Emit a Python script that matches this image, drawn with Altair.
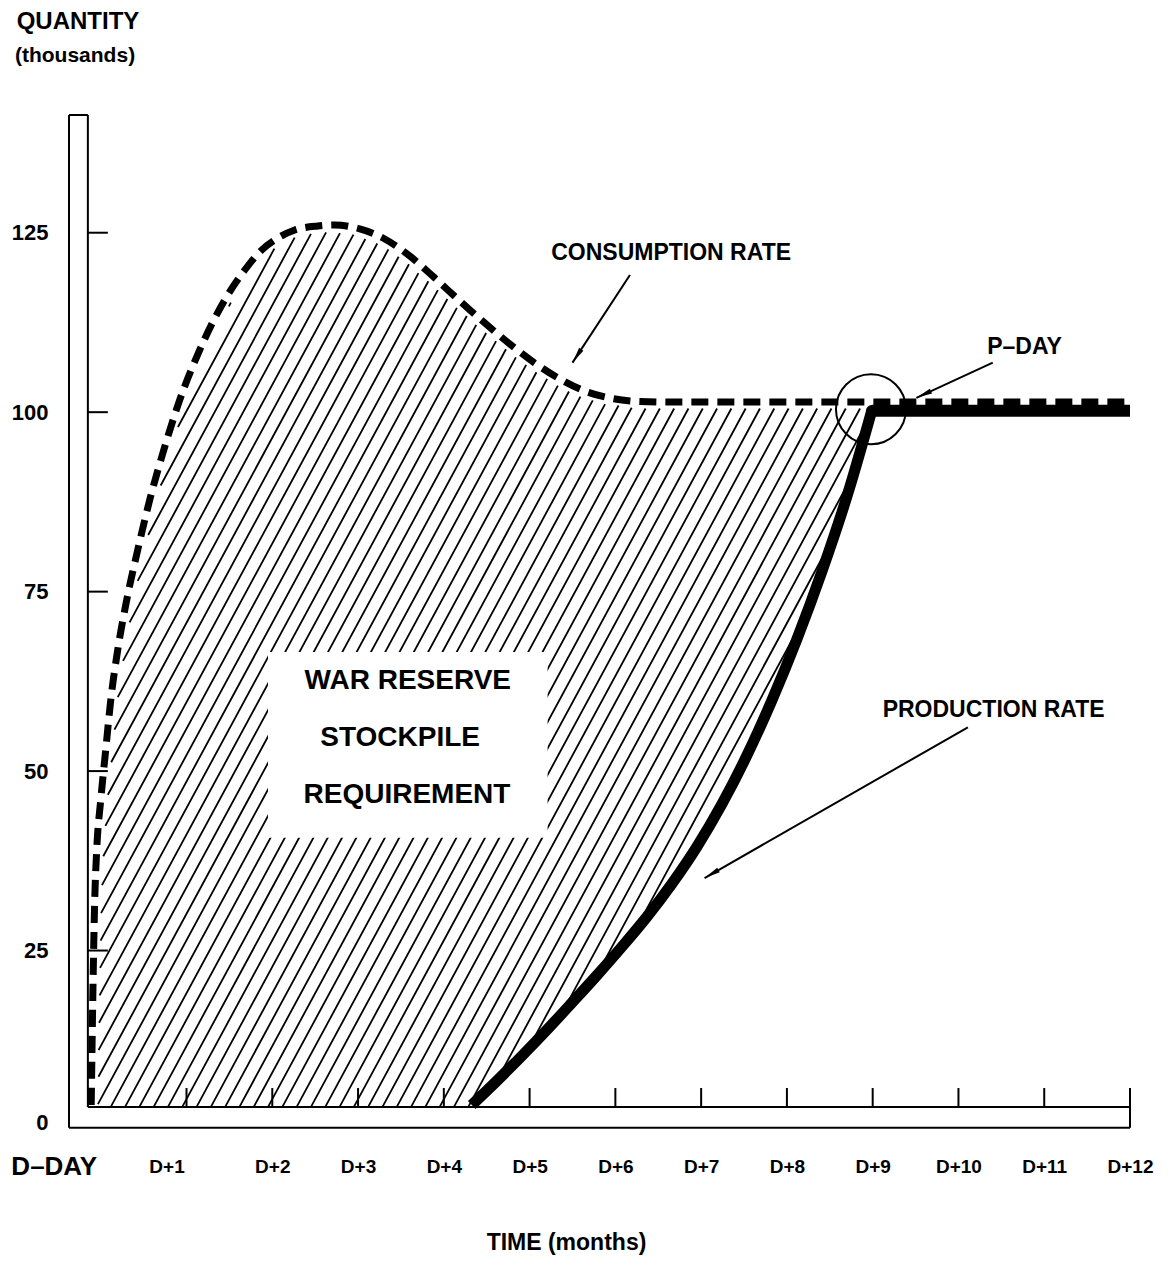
import json
import numpy as np
import pandas as pd
import altair as alt

FONT = "Liberation Sans"

# ---------------- data (months after D-Day, thousands) ----------------
cons_x = [-0.111, -0.093, -0.070, -0.047, 0.000, 0.058, 0.117, 0.198, 0.303, 0.431,
          0.571, 0.735, 0.921, 1.154, 1.446, 1.679, 1.877, 2.029, 2.262, 2.530, 2.728,
          3.020, 3.311, 3.603, 3.894, 4.186, 4.477, 4.769, 5.060, 5.352, 5.643, 5.935,
          6.284, 6.634, 12.0]
cons_y = [3.48, 18.11, 32.04, 39.01, 45.97, 52.94, 59.91, 66.87, 73.84, 80.80,
          87.77, 94.73, 101.70, 108.67, 115.63, 119.81, 122.60, 123.99, 125.38, 125.94, 126.08,
          125.52, 124.13, 121.76, 118.70, 115.49, 112.43, 109.50, 106.85, 104.63, 102.95, 101.98,
          101.49, 101.42, 101.42]

prod_x = [4.326, 4.617, 4.909, 5.200, 5.491, 5.783, 6.074, 6.366, 6.657, 6.949, 7.240,
          7.532, 7.823, 8.115, 8.406, 8.698, 8.989, 12.0]
prod_y = [3.48, 6.83, 10.31, 13.93, 17.69, 21.52, 25.49, 29.67, 34.27, 39.43, 45.35,
          52.14, 59.80, 68.33, 77.74, 88.19, 100.2, 100.2]

month_values = list(range(13))
month_labels = ["D\u2013DAY"] + [f"D+{m}" for m in range(1, 13)]
qty_values = [0, 25, 50, 75, 100, 125]
qty_tick_values = [25, 50, 75, 100, 125]

# annotations (data units)
ann_text = ["CONSUMPTION RATE", "P\u2013DAY", "PRODUCTION RATE", "TIME (months)"]
ann_x = [6.65, 10.77, 10.41, 5.43]
ann_y = [122.2, 109.1, 58.5, -15.7]
ann_size = [23, 23, 23, 23]

box_text = ["WAR RESERVE", "STOCKPILE", "REQUIREMENT"]
box_tx = [3.58, 3.49, 3.57]
box_ty = [62.6, 54.6, 46.7]
box_rect = [1.95, 5.21, 40.7, 66.6]  # x, x2, y, y2

ytitle_text = ["QUANTITY", "(thousands)"]
ytitle_x = [-0.98, -1.0]
ytitle_y = [154.4, 149.6]
ytitle_size = [24, 21]

arrow_tail_x = [6.17, 10.40, 10.11]
arrow_tail_y = [119.1, 106.9, 56.1]
arrow_tip_x = [5.50, 9.51, 7.04]
arrow_tip_y = [106.9, 102.0, 35.1]

pday_x, pday_y = [8.98], [100.4]

# ---------------- scales / frame ----------------
X_MIN, X_MAX = -0.37, 12.0
Y_MIN, Y_MAX = 0.0, 141.4
W, H = 1061, 1015
PX = W / (X_MAX - X_MIN)
PY = H / (Y_MAX - Y_MIN)

AX_OUT_X, AX_IN_X = -0.37, -0.15
AX_OUT_Y, AX_IN_Y = 0.3, 3.2
YTICK_LEN = 20 / PX
XTICK_LEN = 19 / PY

frame = [
    (AX_OUT_X, AX_OUT_Y, AX_OUT_X, Y_MAX),
    (AX_IN_X, AX_IN_Y, AX_IN_X, Y_MAX),
    (AX_OUT_X, Y_MAX, AX_IN_X, Y_MAX),
    (AX_OUT_X, AX_OUT_Y, X_MAX, AX_OUT_Y),
    (AX_IN_X, AX_IN_Y, X_MAX, AX_IN_Y),
    (X_MAX, AX_OUT_Y, X_MAX, AX_IN_Y),
]
for v in qty_tick_values:
    frame.append((AX_IN_X, v, AX_IN_X + YTICK_LEN, v))
for m in month_values[1:]:
    frame.append((m, AX_IN_Y, m, AX_IN_Y + XTICK_LEN))
frame_df = pd.DataFrame(frame, columns=["x", "y", "x2", "y2"])

# ---------------- hatch (derived from the curves) ----------------
cx, cy = np.array(cons_x), np.array(cons_y)
pxa, pya = np.array(prod_x), np.array(prod_y)
cu, cv = cx * PX, cy * PY
A = np.stack([cu[:-1], cv[:-1]], 1)
B = np.stack([cu[1:], cv[1:]], 1)
AB = B - A
ab2 = (AB ** 2).sum(1)
SLOPE, SPACING, GAP = 1.85, 14.3, 6.5
vmax = 130 * PY
segs = []
c = AX_IN_X * PX - vmax / SLOPE
while c < 9.2 * PX:
    u = np.arange(c, c + vmax / SLOPE, 0.4)
    v = SLOPE * (u - c)
    x = u / PX
    y = v / PY
    top = np.interp(x, cx, cy, left=-1e9, right=-1e9)
    floor = np.where(x < pxa[0], AX_IN_Y, np.interp(x, pxa, pya))
    floor = np.maximum(floor, AX_IN_Y)
    inside = (x >= AX_IN_X + 0.02) & (y <= top) & (y >= floor)
    if inside.any():
        P = np.stack([u, v], 1)
        AP = P[:, None, :] - A[None, :, :]
        t = np.clip((AP * AB[None]).sum(2) / ab2[None], 0, 1)
        proj = A[None] + t[..., None] * AB[None]
        d = np.sqrt(((P[:, None, :] - proj) ** 2).sum(2)).min(1)
        inside &= d >= GAP
        edges = np.flatnonzero(np.diff(np.r_[0, inside.astype(int), 0]))
        for s, e in zip(edges[0::2], edges[1::2] - 1):
            if e - s >= 3:
                segs.append((x[s], y[s], x[e], y[e]))
    c += SPACING
hatch_df = pd.DataFrame(segs, columns=["x", "y", "x2", "y2"])

# ---------------- tables ----------------
cons_df = pd.DataFrame({"x": cons_x, "y": cons_y})
prod_df = pd.DataFrame({"x": prod_x, "y": prod_y})
prod_rise_df = prod_df.iloc[:-1]
prod_flat_df = prod_df.iloc[-2:]
prod_corner_df = prod_df.iloc[-2:-1]
ann_df = pd.DataFrame({"t": ann_text, "x": ann_x, "y": ann_y, "s": ann_size})
box_df = pd.DataFrame({"t": box_text, "x": box_tx, "y": box_ty})
rect_df = pd.DataFrame([box_rect], columns=["x", "x2", "y", "y2"])
ytitle_df = pd.DataFrame({"t": ytitle_text, "x": ytitle_x, "y": ytitle_y, "s": ytitle_size})
arr_df = pd.DataFrame({"x": arrow_tail_x, "y": arrow_tail_y,
                       "x2": arrow_tip_x, "y2": arrow_tip_y})
ang = []
for tx, ty, hx, hy in zip(arrow_tail_x, arrow_tail_y, arrow_tip_x, arrow_tip_y):
    dx = (hx - tx) * PX
    dy = -(hy - ty) * PY
    ang.append(float(np.degrees(np.arctan2(dx, -dy)) % 360))
head_df = pd.DataFrame({"x": arrow_tip_x, "y": arrow_tip_y, "ang": ang})
pday_df = pd.DataFrame({"x": pday_x, "y": pday_y})

# ---------------- encodings ----------------
xs = alt.Scale(domain=[X_MIN, X_MAX], nice=False, zero=False)
ys = alt.Scale(domain=[Y_MIN, Y_MAX], nice=False, zero=False)

x_axis = alt.Axis(
    values=month_values, title=None, domain=False, ticks=False, tickSize=0, grid=False,
    labelExpr=json.dumps(month_labels) + "[datum.value]",
    labelFont=FONT, labelFontWeight="bold", labelColor="black",
    labelFontSize={"condition": {"test": "datum.value == 0", "value": 26}, "value": 19},
    labelOffset={"condition": [{"test": "datum.value == 0", "value": -47},
                               {"test": "datum.value == 1", "value": -20}], "value": 0},
    labelPadding=36, labelBaseline="middle", labelFlush=False, labelOverlap=False,
)
y_axis = alt.Axis(
    values=qty_values, title=None, domain=False, ticks=False, tickSize=0, grid=False,
    labelFont=FONT, labelFontWeight="bold", labelColor="black", labelFontSize=22,
    labelPadding=21, labelAlign="right", labelBaseline="middle",
    labelOffset={"condition": {"test": "datum.value == 0", "value": -8}, "value": 0},
    labelFlush=False, labelOverlap=False,
)


def X(f="x"):
    return alt.X(f, type="quantitative", scale=xs, axis=x_axis)


def Y(f="y"):
    return alt.Y(f, type="quantitative", scale=ys, axis=y_axis)


frame_l = alt.Chart(frame_df).mark_rule(color="black", strokeWidth=2).encode(
    x=X(), y=Y(), x2="x2", y2="y2")
hatch_l = alt.Chart(hatch_df).mark_rule(color="black", strokeWidth=1.8).encode(
    x=X(), y=Y(), x2="x2", y2="y2")
rect_l = alt.Chart(rect_df).mark_rect(color="white").encode(
    x=X(), y=Y(), x2="x2", y2="y2")
box_l = alt.Chart(box_df).mark_text(font=FONT, fontWeight="bold", fontSize=28,
                                    align="center", baseline="middle", color="black").encode(
    x=X(), y=Y(), text="t")
prod_rise_l = alt.Chart(prod_rise_df).mark_line(
    color="black", strokeWidth=11, interpolate="monotone", strokeCap="butt").encode(
    x=X(), y=Y())
prod_flat_l = alt.Chart(prod_flat_df).mark_line(
    color="black", strokeWidth=12, strokeCap="butt").encode(x=X(), y=Y())
prod_corner_l = alt.Chart(prod_corner_df).mark_point(
    shape="circle", size=132, filled=True, color="black", opacity=1).encode(x=X(), y=Y())
cons_l = alt.Chart(cons_df).mark_line(color="black", strokeWidth=7, interpolate="monotone",
                                      strokeDash=[17, 9], strokeCap="butt").encode(x=X(), y=Y())
pday_l = alt.Chart(pday_df).mark_point(shape="circle", size=4900, filled=False,
                                       color="black", strokeWidth=2, opacity=1).encode(x=X(), y=Y())
arr_l = alt.Chart(arr_df).mark_rule(color="black", strokeWidth=2).encode(
    x=X(), y=Y(), x2="x2", y2="y2")
head_l = alt.Chart(head_df).mark_point(shape="M0,0L0.32,2L-0.32,2Z", size=256, filled=True,
                                       color="black", opacity=1).encode(
    x=X(), y=Y(), angle=alt.Angle("ang:Q", scale=None))
ann_l = alt.Chart(ann_df).mark_text(font=FONT, fontWeight="bold", align="center",
                                    baseline="middle", color="black").encode(
    x=X(), y=Y(), text="t", size=alt.Size("s:Q", scale=None))
ytitle_l = alt.Chart(ytitle_df).mark_text(font=FONT, fontWeight="bold", align="left",
                                          baseline="middle", color="black").encode(
    x=X(), y=Y(), text="t", size=alt.Size("s:Q", scale=None))

chart = alt.layer(
    frame_l, hatch_l, rect_l, box_l, prod_rise_l, prod_flat_l, prod_corner_l, cons_l,
    pday_l, arr_l, head_l, ann_l, ytitle_l
).properties(
    width=W, height=H,
    autosize=alt.AutoSizeParams(type="none"),
    padding={"left": 61, "top": 107, "right": 30, "bottom": 128},
    background="white",
).configure_view(stroke=None)

chart.save("out.html", embed_options={"renderer": "svg", "actions": False})
